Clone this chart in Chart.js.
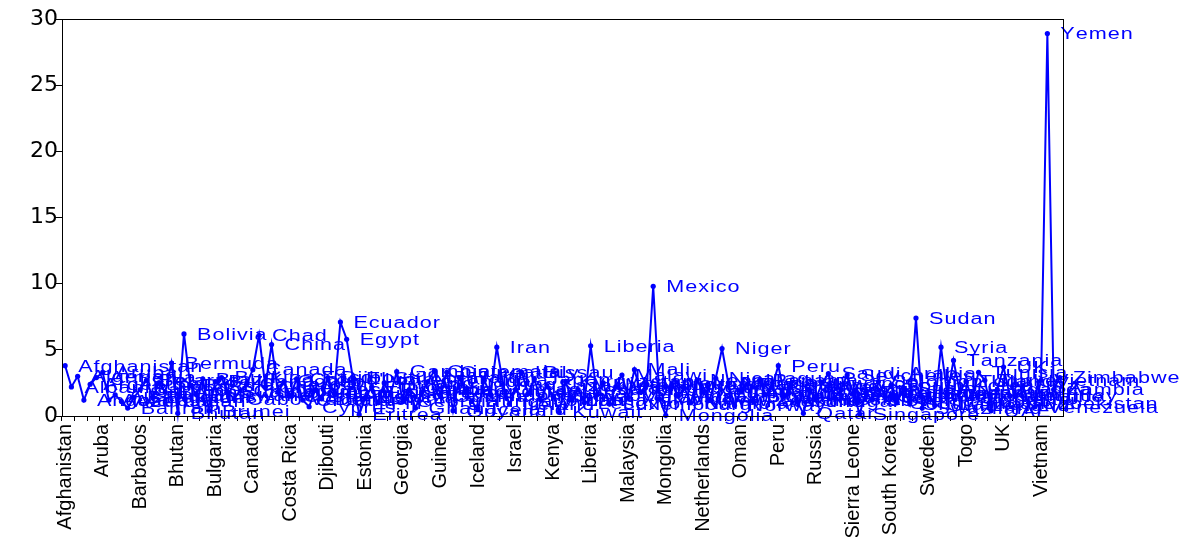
<!DOCTYPE html>
<html><head><meta charset="utf-8">
<script src="https://cdn.jsdelivr.net/npm/chart.js@4/dist/chart.umd.min.js"></script>
<style>html,body{margin:0;padding:0;background:#fff;} canvas{display:block;}</style>
</head><body>
<canvas id="c" width="1182" height="537"></canvas>
<script>
const countries = [
"Afghanistan","Albania","Algeria","Angola","Argentina","Armenia","Aruba","Australia","Austria","Azerbaijan",
"Bahrain","Bangladesh","Barbados","Belarus","Belgium","Belize","Benin","Bermuda","Bhutan","Bolivia",
"Bosnia","Botswana","Brazil","Brunei","Bulgaria","Burkina Faso","Burundi","Cabo Verde","Cambodia","Cameroon",
"Canada","Chad","Chile","China","Colombia","Congo","Costa Rica","Cote d'Ivoire","Croatia","Cyprus",
"Czech Republic","Denmark","Djibouti","Dominican Rep.","Ecuador","Egypt","El Salvador","Eritrea","Estonia","Ethiopia",
"Fiji","Finland","France","Gambia","Georgia","Germany","Ghana","Greece","Grenada","Guatemala",
"Guinea","Guinea-Bissau","Guyana","Haiti","Honduras","Hungary","Iceland","India","Indonesia","Iran",
"Iraq","Ireland","Israel","Italy","Jamaica","Japan","Jordan","Kazakhstan","Kenya","Kuwait",
"Kyrgyzstan","Latvia","Lebanon","Lesotho","Liberia","Libya","Lithuania","Luxembourg","Madagascar","Malawi",
"Malaysia","Mali","Malta","Mauritius","Mexico","Moldova","Mongolia","Morocco","Mozambique","Myanmar",
"Namibia","Nepal","Netherlands","New Zealand","Nicaragua","Niger","Nigeria","Norway","Oman","Pakistan",
"Palestine","Panama","Papua New Guinea","Paraguay","Peru","Philippines","Poland","Portugal","Qatar","Romania",
"Russia","Rwanda","Saudi Arabia","Senegal","Serbia","Seychelles","Sierra Leone","Singapore","Slovakia","Slovenia",
"Solomon Islands","South Africa","South Korea","South Sudan","Spain","Sri Lanka","Sudan","Swaziland","Sweden","Switzerland",
"Syria","Tajikistan","Tanzania","Thailand","Togo","Trinidad","Tunisia","Turkey","UAE","Uganda",
"UK","Ukraine","Uruguay","USA","Uzbekistan","Venezuela","Vietnam","Yemen","Zambia","Zimbabwe"
];
const values = [
3.8,2.2,3.0,1.2,2.4,2.9,3.3,1.2,1.6,1.1,
0.6,1.4,2.0,2.7,1.4,2.5,1.8,4.0,0.2,6.2,
2.3,1.6,2.8,0.4,2.6,2.9,1.8,1.3,1.9,2.4,
3.5,6.1,2.2,5.4,1.8,2.6,1.5,2.8,1.2,0.7,
2.0,1.3,2.9,1.7,7.1,5.8,2.85,0.1,1.4,2.2,
1.0,2.5,1.6,3.35,1.1,2.0,0.6,1.8,2.6,3.4,
1.5,3.3,0.4,2.9,1.9,1.1,0.5,2.7,1.6,5.2,
2.4,0.9,2.0,3.3,1.7,2.8,1.2,2.3,1.5,0.3,
2.6,1.2,2.0,1.0,5.3,1.6,2.5,0.9,2.2,3.1,
1.4,3.5,1.8,2.4,9.8,1.3,0.05,2.4,1.5,2.1,
1.0,2.7,1.8,1.2,2.85,5.1,2.5,0.8,1.9,2.4,
1.1,2.7,1.6,2.2,3.8,1.5,2.3,1.1,0.2,1.9,
1.3,2.5,3.2,1.4,2.0,3.1,1.7,0.15,1.8,1.2,
2.6,1.5,2.3,1.0,2.1,0.9,7.4,0.6,1.7,0.8,
5.2,1.6,4.2,1.8,2.6,1.3,3.3,2.7,0.4,2.0,
3.7,1.5,1.6,2.2,1.0,0.7,2.7,28.9,2.0,2.9
];
const yMin = 0, yMax = 30, yStep = 5;
const labelEvery = 6;
const BLUE = '#0000ff';
const FONT = '"Liberation Sans", Arial, sans-serif';

const frame = {
  id: 'frame',
  afterDraw(chart) {
    const a = chart.chartArea, ctx = chart.ctx;
    ctx.save();
    ctx.strokeStyle = '#000'; ctx.lineWidth = 1;
    ctx.strokeRect(Math.round(a.left)+0.5, Math.round(a.top)+0.5, Math.round(a.right-a.left), Math.round(a.bottom-a.top));
    ctx.restore();
  }
};
const pointLabels = {
  id: 'pointLabels',
  afterDatasetsDraw(chart) {
    const ctx = chart.ctx;
    const meta = chart.getDatasetMeta(0);
    const sx = 1.35, sp = 1;
    ctx.save();
    ctx.fillStyle = BLUE;
    ctx.font = '16px ' + FONT;
    ctx.textBaseline = 'alphabetic';
    meta.data.forEach((pt, i) => {
      const txt = chart.data.labels[i];
      ctx.save();
      ctx.translate(pt.x + 13, pt.y + 5.8);
      ctx.scale(sx, 1);
      let x = 0;
      for (const ch of txt) {
        ctx.fillText(ch, x, 0);
        x += ctx.measureText(ch).width + sp / sx;
      }
      ctx.restore();
    });
    ctx.restore();
  }
};

new Chart(document.getElementById('c'), {
  type: 'line',
  data: {
    labels: countries,
    datasets: [{
      data: values,
      borderColor: BLUE,
      backgroundColor: BLUE,
      borderWidth: 2,
      pointRadius: 2.6,
      pointBorderWidth: 0,
      pointBackgroundColor: BLUE,
      tension: 0,
      clip: false
    }]
  },
  options: {
    responsive: false,
    animation: false,
    devicePixelRatio: 1,
    layout: { padding: { top: 19, right: 119, left: 0, bottom: 0 } },
    plugins: { legend: { display: false }, tooltip: { enabled: false } },
    scales: {
      x: {
        type: 'category',
        offset: true,
        afterFit(s) { s.height = 121; },
        grid: {
          offset: true,
          drawOnChartArea: false,
          drawTicks: true,
          tickLength: 5,
          color: (c) => (c.index % 2 === 0 ? '#000' : 'rgba(0,0,0,0)'),
          lineWidth: 1
        },
        border: { display: true, color: '#000', width: 1 },
        ticks: {
          autoSkip: false,
          maxRotation: 90,
          minRotation: 90,
          padding: 3,
          color: '#000',
          font: { family: FONT, size: 20 },
          callback: function(v, i) { return i % labelEvery === 0 ? countries[i] : ''; }
        }
      },
      y: {
        min: yMin, max: yMax,
        afterFit(s) { s.width = 62; },
        grid: { drawOnChartArea: false, drawTicks: true, tickLength: 6, color: '#000' },
        border: { display: true, color: '#000', width: 1 },
        ticks: { stepSize: yStep, padding: -2, color: '#000', font: { family: '"DejaVu Sans", sans-serif', size: 22 } }
      }
    }
  },
  plugins: [frame, pointLabels]
});
</script>
</body></html>
